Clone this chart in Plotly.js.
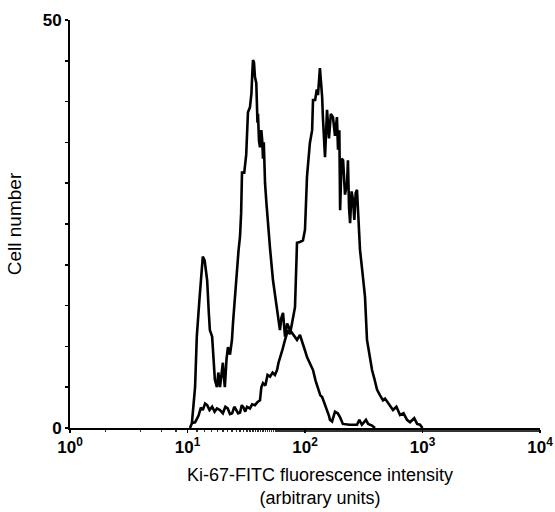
<!DOCTYPE html>
<html>
<head>
<meta charset="utf-8">
<script src="https://cdn.plot.ly/plotly-3.0.1.min.js"></script>
<style>html,body{margin:0;padding:0;background:#fff;}#chart{width:555px;height:512px;}</style>
</head>
<body>
<div id="chart"></div>
<script>
// Ki-67-FITC fluorescence intensity (arbitrary units) vs cell number
const lowX = [10.5, 10.9, 11.6, 12.0, 12.6, 13.0, 13.5, 14.0, 14.7, 15.2, 15.5, 16.2, 16.6, 17.1, 17.8, 18.3, 18.9, 19.4, 20.0, 20.4, 20.8, 21.5, 22.1, 23.0, 23.9, 24.4, 25.4, 26.4, 27.2, 28.0, 28.6, 29.1, 30.4, 31.6, 32.1, 32.7, 34.0, 35.0, 35.6, 36.1, 36.8, 37.5, 38.5, 39.0, 39.4, 39.8, 40.6, 41.4, 42.5, 43.2, 43.9, 44.6, 45.7, 47.0, 48.4, 49.4, 50.4, 53.4, 56.0, 58.9, 61.2, 63.0, 65.0, 67.6, 70.5, 74.5, 79.0, 85.5, 90.6, 96.1, 100, 104, 110, 117, 123, 129, 135, 140, 147, 154, 160, 163, 170, 180, 190, 199, 210, 240, 277, 290, 305, 330, 345, 372, 394];
const lowY = [0, 0.6, 5.0, 11.2, 15.5, 18.0, 21.0, 20.5, 18.1, 14.0, 12.0, 11.2, 9.0, 5.9, 5.0, 6.8, 5.0, 6.5, 8.0, 6.2, 5.0, 8.5, 9.9, 9.0, 10.8, 12.9, 16.5, 20.2, 21.8, 23.5, 26.3, 31.3, 31.3, 33.5, 35.5, 38.7, 39.3, 41.0, 43.5, 45.1, 44.8, 43.0, 42.3, 40.0, 37.4, 38.5, 35.2, 34.4, 36.5, 35.3, 33.0, 35.0, 30.0, 27.5, 25.1, 23.0, 22.0, 18.1, 16.0, 13.6, 12.0, 13.5, 14.1, 11.2, 12.8, 12.0, 11.5, 10.8, 11.4, 10.4, 9.5, 8.7, 8.0, 7.1, 5.8, 4.7, 4.0, 3.8, 3.0, 2.2, 1.5, 1.0, 0.8, 2.0, 1.8, 1.3, 0.5, 0.4, 0.4, 1.0, 0.4, 1.0, 0.5, 0.3, 0];

const highX = [10.9, 11.6, 12.4, 13.0, 13.5, 14.1, 14.7, 15.4, 16.2, 17.0, 17.8, 18.9, 20.0, 21.0, 22.0, 23.0, 24.0, 25.0, 26.0, 27.0, 28.0, 29.0, 30.0, 31.0, 32.1, 34.0, 35.5, 37.5, 39.5, 41.4, 42.5, 43.9, 46.0, 48.0, 50.4, 53.0, 55.5, 57.8, 59.5, 61.2, 64.0, 67.6, 71.6, 74.5, 77.5, 80.0, 82.2, 85.5, 90.6, 96.1, 100, 104, 110, 115, 117, 122, 126, 129, 134, 137, 140, 142, 145, 148, 154, 160, 166, 173, 180, 187, 191, 196, 199, 205, 211, 219, 228, 232, 237, 242, 249, 256, 263, 270, 277, 283, 294, 306, 324, 337, 355, 372, 390, 410, 435, 461, 480, 509, 561, 600, 644, 690, 738, 783, 850, 900, 952, 1000];
const highY = [0.6, 0.7, 1.5, 2.5, 2.2, 3.0, 2.8, 2.2, 2.6, 2.0, 2.4, 2.2, 1.8, 2.6, 2.4, 1.7, 1.8, 2.6, 2.2, 1.8, 1.9, 2.8, 2.5, 2.0, 2.6, 2.4, 2.9, 2.8, 3.2, 3.4, 5.0, 5.5, 5.2, 6.5, 6.3, 6.8, 6.5, 7.1, 8.0, 8.7, 9.5, 10.8, 12.0, 11.5, 12.9, 13.8, 14.8, 22.7, 22.8, 23.0, 24.3, 30.8, 34.9, 36.5, 40.2, 40.2, 41.5, 40.8, 44.1, 42.3, 40.5, 38.1, 36.0, 33.2, 39.0, 35.5, 38.5, 38.1, 35.8, 38.1, 34.1, 36.5, 26.7, 33.0, 32.8, 28.6, 30.0, 32.8, 27.0, 25.1, 29.0, 28.0, 25.5, 28.8, 29.2, 25.9, 21.8, 19.5, 16.1, 10.8, 8.7, 7.1, 6.0, 4.7, 4.0, 3.4, 3.6, 3.1, 2.2, 2.6, 1.6, 1.8, 1.0, 0.7, 1.2, 0.5, 0.4, 0];

const xTickVals = [1, 10, 100, 1000, 10000];
const xTickText = ['10<sup>0</sup>', '10<sup>1</sup>', '10<sup>2</sup>', '10<sup>3</sup>', '10<sup>4</sup>'];
const yTickVals = [0, 50];
const yTickText = ['0', '50'];
const xTitleLines = ['Ki-67-FITC fluorescence intensity', '(arbitrary units)'];
const yTitle = 'Cell number';

const lineStyle = {color: '#000', width: 2.6};
const traces = [
  {x: lowX, y: lowY, type: 'scatter', mode: 'lines', line: lineStyle, hoverinfo: 'skip'},
  {x: highX, y: highY, type: 'scatter', mode: 'lines', line: lineStyle, hoverinfo: 'skip'}
];

const FAM = 'Liberation Sans, Arial, sans-serif';
const tickFont = {family: FAM, size: 17, color: '#000', weight: 'bold'};
const titleFont = {family: FAM, size: 19, color: '#000'};
const xTitleFont = {family: FAM, size: 18, color: '#000'};

const layout = {
  width: 555, height: 512,
  margin: {l: 70, r: 15, t: 20, b: 84},
  paper_bgcolor: '#fff', plot_bgcolor: '#fff',
  showlegend: false,
  xaxis: {
    type: 'log', range: [0, 4],
    tickvals: xTickVals, ticktext: xTickText,
    tickfont: tickFont,
    showline: true, linecolor: '#000', linewidth: 2,
    ticks: 'outside', ticklen: 3, tickwidth: 1.5, tickcolor: '#000',
    minor: {ticks: 'outside', ticklen: 2, tickwidth: 1.5, tickcolor: '#333', showgrid: false},
    showgrid: false, zeroline: false
  },
  yaxis: {
    range: [0, 50],
    tickvals: yTickVals, ticktext: yTickText,
    tickfont: tickFont,
    showline: true, linecolor: '#000', linewidth: 2,
    ticks: 'outside', ticklen: 3, tickwidth: 1.5, tickcolor: '#000',
    minor: {tick0: 0, dtick: 5, ticks: 'outside', ticklen: 3, tickwidth: 1.5, tickcolor: '#000', showgrid: false},
    showgrid: false, zeroline: false,
    title: {text: yTitle, font: titleFont, standoff: 16}
  },
  annotations: [
    {text: xTitleLines.join('<br>'), xref: 'paper', yref: 'paper', x: 0.5, y: 0, xshift: 15, yshift: -35,
     xanchor: 'center', yanchor: 'top', align: 'center', showarrow: false, font: xTitleFont}
  ]
};

Plotly.newPlot('chart', traces, layout, {staticPlot: true, displayModeBar: false});
</script>
</body>
</html>
